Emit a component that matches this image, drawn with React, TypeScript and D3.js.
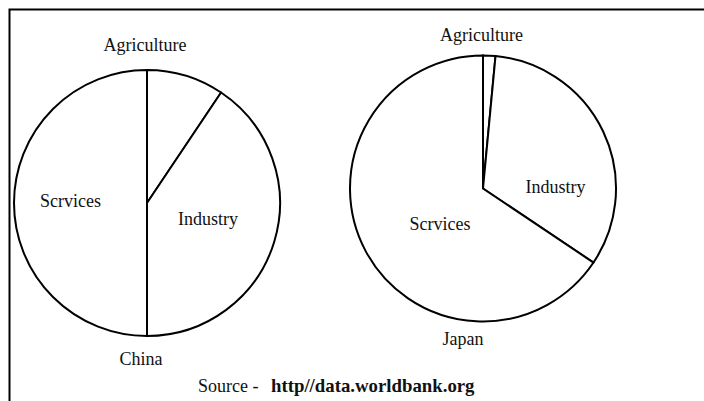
import * as d3 from "d3";
import React, { useEffect, useRef } from "react";

// share of GDP by sector (%)
const sectors = ["Agriculture", "Industry", "Services"];
const chinaValues = [9.4, 40.6, 50.0];
const japanValues = [1.5, 32.9, 65.6];
const countries = ["China", "Japan"];
const sourceLabel = "Source - ";
const sourceUrl = "http//data.worldbank.org";

interface PieSpec {
    name: string;
    values: number[];
    cx: number;
    cy: number;
    // label anchor points (text centre, baseline)
    labels: { text: string; x: number; y: number }[];
}

const W = 704, H = 401;
const FONT = "Times New Roman, Liberation Serif, DejaVu Serif, serif";

export default function App() {
    const ref = useRef<SVGSVGElement>(null);

    useEffect(() => {
        const svg = d3.select(ref.current);
        svg.selectAll("*").remove();

        const radius = 133;

        const pies: PieSpec[] = [
            {
                name: countries[0], values: chinaValues, cx: 147, cy: 203,
                labels: [
                    { text: sectors[0], x: 145, y: 51 },
                    { text: "Scrvices", x: 70.5, y: 207 },
                    { text: sectors[1], x: 208, y: 224.5 },
                    { text: countries[0], x: 141, y: 365 }
                ]
            },
            {
                name: countries[1], values: japanValues, cx: 483, cy: 188.5,
                labels: [
                    { text: sectors[0], x: 481.5, y: 41 },
                    { text: sectors[1], x: 555.5, y: 193 },
                    { text: "Scrvices", x: 440, y: 230 },
                    { text: countries[1], x: 463, y: 345 }
                ]
            }
        ];

        // frame: left and top edges only, the rest runs off the page
        svg.append("path")
            .attr("d", `M9.5,${H} V9.5 H${W}`)
            .attr("fill", "none")
            .attr("stroke", "#000")
            .attr("stroke-width", 2);

        const pie = d3.pie<number>().sort(null).startAngle(0).endAngle(2 * Math.PI);
        const arc = d3.arc<d3.PieArcDatum<number>>().innerRadius(0).outerRadius(radius);

        pies.forEach(p => {
            const g = svg.append("g").attr("transform", `translate(${p.cx},${p.cy})`);
            g.selectAll("path")
                .data(pie(p.values))
                .enter()
                .append("path")
                .attr("d", arc)
                .attr("fill", "#fff")
                .attr("stroke", "#000")
                .attr("stroke-width", 2)
                .attr("stroke-linejoin", "miter");

            svg.selectAll(null)
                .data(p.labels)
                .enter()
                .append("text")
                .attr("x", d => d.x)
                .attr("y", d => d.y)
                .attr("text-anchor", "middle")
                .attr("font-family", FONT)
                .attr("font-size", 18)
                .attr("fill", "#111")
                .text(d => d.text);
        });

        const src = svg.append("text")
            .attr("x", 198)
            .attr("y", 392)
            .attr("font-family", FONT)
            .attr("font-size", 18)
            .attr("fill", "#111")
            .attr("xml:space", "preserve");
        src.append("tspan").text(sourceLabel);
        src.append("tspan")
            .attr("x", 271)
            .attr("font-weight", "bold")
            .attr("font-size", 18.8)
            .text(sourceUrl);
    }, []);

    return (
        <svg ref={ref} width={W} height={H}
            style={{ position: "absolute", left: 0, top: 0, background: "#fff" }} />
    );
}
